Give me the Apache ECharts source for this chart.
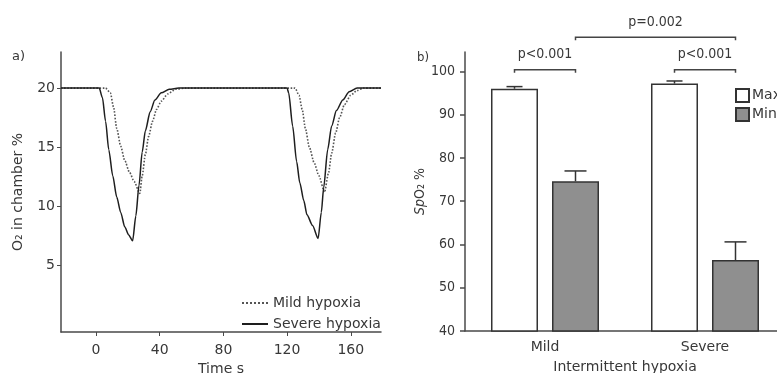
<!DOCTYPE html>
<html>
<head>
<meta charset="utf-8">
<script src="https://cdn.jsdelivr.net/npm/echarts@6/dist/echarts.min.js"></script>
<style>
  html, body { margin: 0; padding: 0; background: #fff; }
  #chart { width: 777px; height: 373px; }
</style>
</head>
<body>
<div id="chart"></div>
<script>
// panel a) O2 in chamber over time, [time s, O2 %]
const mildHypoxia = [
  [-22, 20], [6, 20], [9, 19.6], [11, 18.4], [13, 16.6], [15.5, 15.1], [18, 13.9],
  [21, 12.9], [24, 12.1], [27.5, 11.1], [29, 12.6], [31, 14.4], [33, 15.9],
  [35.5, 17.2], [38, 18.2], [41, 18.9], [45, 19.5], [50, 19.9], [56, 20],
  [125, 20], [127.5, 19.4], [129.5, 18.2], [131.5, 16.6], [134, 15.0], [137, 13.7],
  [140, 12.6], [143.5, 11.2], [146, 12.8], [148, 14.5], [150.5, 16.2], [153, 17.5],
  [156, 18.6], [160, 19.4], [164, 19.8], [168, 20], [179, 20]
];
const severeHypoxia = [
  [-22, 20], [2, 20], [4, 19.2], [6, 17.2], [8, 14.8], [10.5, 12.6], [13, 10.8],
  [15.5, 9.5], [18, 8.3], [20.5, 7.6], [23, 7.1], [25, 9.2], [27, 11.8], [29, 14.6],
  [31, 16.4], [34, 18.0], [37, 19.0], [41, 19.6], [46, 19.9], [52, 20],
  [120, 20], [121, 19.6], [123.5, 16.8], [126, 13.8], [128, 12.0], [130.5, 10.5],
  [132.5, 9.3], [136, 8.4], [139.5, 7.3], [141.5, 9.5], [143, 11.6], [145.5, 14.8],
  [148, 16.8], [151, 18.1], [155, 19.0], [159, 19.7], [164, 20], [179, 20]
];
const timeTicks = [0, 40, 80, 120, 160];
const o2Ticks = [5, 10, 15, 20];

// panel b) SpO2 max / min per group
const groups = ['Mild', 'Severe'];
const spo2Max = [96.0, 97.2];
const spo2MaxUpper = [96.5, 97.8];
const spo2Min = [74.6, 56.4];
const spo2MinUpper = [77.0, 60.6];
const spo2Ticks = [40, 50, 60, 70, 80, 90, 100];

// significance brackets: [group from, bar from (0 max / 1 min), group to, bar to, SpO2 level]
const brackets = [
  [0, 0, 0, 1, 100.4],
  [1, 0, 1, 1, 100.4],
  [0, 1, 1, 1, 107.9]
];
const bracketLabels = ['p<0.001', 'p<0.001', 'p=0.002'];

const FONT_A = 'DejaVu Sans';
const FONT_B = 'DejaVu Sans Condensed';
const TEXT = '#383838';
const AXIS = '#4a4a4a';
const BAR_W = 47;
const BAR_GAP = 14;
const barShift = (BAR_W + BAR_GAP) / 2;

const chart = echarts.init(document.getElementById('chart'));

const errorData = groups.map((g, i) => [i, spo2Max[i], spo2MaxUpper[i], 0])
  .concat(groups.map((g, i) => [i, spo2Min[i], spo2MinUpper[i], 1]));

const option = {
  animation: false,
  backgroundColor: '#fff',
  textStyle: { fontFamily: FONT_A, color: TEXT },
  graphic: [
    { type: 'text', left: 12, top: 50, style: { text: 'a)', font: '13px ' + FONT_A, fill: TEXT } },
    { type: 'text', left: 417, top: 51, style: { text: 'b)', font: '13px ' + FONT_B, fill: TEXT } }
  ],
  legend: [
    {
      data: ['Mild hypoxia', 'Severe hypoxia'],
      orient: 'vertical',
      left: 236,
      top: 291,
      itemWidth: 26,
      itemHeight: 14,
      itemGap: 7,
      itemStyle: { opacity: 0 },
      textStyle: { fontFamily: FONT_A, fontSize: 14, color: TEXT, padding: [0, 0, 0, 0] }
    },
    {
      data: ['Max', 'Min'],
      orient: 'vertical',
      left: 730,
      top: 83,
      icon: 'rect',
      itemWidth: 13,
      itemHeight: 13,
      itemGap: 4,
      textStyle: { fontFamily: FONT_A, fontSize: 14, color: TEXT, padding: [0, 0, 0, -2] }
    }
  ],
  grid: [
    { left: 61, right: 396, top: 52, bottom: 41, outerBoundsMode: 'none' },
    { left: 465, right: -8, top: 52, bottom: 42, outerBoundsMode: 'none' }
  ],
  xAxis: [
    {
      gridIndex: 0,
      type: 'value',
      min: -22,
      max: 179,
      name: 'Time s',
      nameLocation: 'middle',
      nameGap: 29,
      nameTextStyle: { fontFamily: FONT_A, fontSize: 14, color: TEXT },
      axisLine: { show: true, onZero: false, lineStyle: { color: AXIS, width: 1.5 } },
      axisTick: { show: true, length: 4, customValues: timeTicks, lineStyle: { color: AXIS } },
      axisLabel: { customValues: timeTicks, margin: 11, fontFamily: FONT_A, fontSize: 14, color: TEXT },
      splitLine: { show: false }
    },
    {
      gridIndex: 1,
      type: 'category',
      data: groups,
      name: 'Intermittent hypoxia',
      nameLocation: 'middle',
      nameGap: 29,
      nameTextStyle: { fontFamily: FONT_A, fontSize: 14, color: TEXT },
      axisLine: { lineStyle: { color: AXIS, width: 1.5 } },
      axisTick: { alignWithLabel: true, length: 4, lineStyle: { color: AXIS, width: 1.5 } },
      axisLabel: { margin: 9, fontFamily: FONT_A, fontSize: 14, color: TEXT }
    }
  ],
  yAxis: [
    {
      gridIndex: 0,
      type: 'value',
      min: -0.6,
      max: 23.05,
      name: 'O₂ in chamber %',
      nameLocation: 'middle',
      nameGap: 36,
      nameTextStyle: { fontFamily: FONT_A, fontSize: 14, color: TEXT },
      axisLine: { show: true, onZero: false, lineStyle: { color: AXIS, width: 1.5 } },
      axisTick: { show: true, length: 4, customValues: o2Ticks, lineStyle: { color: AXIS } },
      axisLabel: { customValues: o2Ticks, margin: 6, fontFamily: FONT_A, fontSize: 14, color: TEXT },
      splitLine: { show: false }
    },
    {
      gridIndex: 1,
      type: 'value',
      min: 40,
      max: 104.5,
      name: '{i|Sp}O₂ %',
      nameLocation: 'middle',
      nameGap: 35,
      nameTextStyle: {
        fontFamily: FONT_B, fontSize: 14, color: TEXT,
        rich: { i: { fontFamily: FONT_B, fontSize: 14, fontStyle: 'italic', color: TEXT } }
      },
      axisLine: { show: true, lineStyle: { color: AXIS, width: 1.5 } },
      axisTick: { show: true, length: 5, customValues: spo2Ticks, lineStyle: { color: AXIS, width: 1.5 } },
      axisLabel: { customValues: spo2Ticks, margin: 10, fontFamily: FONT_B, fontSize: 14, color: TEXT },
      splitLine: { show: false }
    }
  ],
  series: [
    {
      name: 'Mild hypoxia',
      type: 'line',
      xAxisIndex: 0,
      yAxisIndex: 0,
      data: mildHypoxia,
      symbol: 'none',
      smooth: 0.25,
      smoothMonotone: 'x',
      lineStyle: { type: 'dotted', width: 1.6, color: '#555' },
      itemStyle: { color: '#555' }
    },
    {
      name: 'Severe hypoxia',
      type: 'line',
      xAxisIndex: 0,
      yAxisIndex: 0,
      data: severeHypoxia,
      symbol: 'none',
      smooth: 0.25,
      smoothMonotone: 'x',
      lineStyle: { type: 'solid', width: 1.5, color: '#1e1e1e' },
      itemStyle: { color: '#1e1e1e' }
    },
    {
      name: 'Max',
      type: 'bar',
      xAxisIndex: 1,
      yAxisIndex: 1,
      data: spo2Max,
      barWidth: BAR_W,
      barGap: (BAR_GAP / BAR_W * 100).toFixed(1) + '%',
      itemStyle: { color: '#ffffff', borderColor: '#333', borderWidth: 1.5 }
    },
    {
      name: 'Min',
      type: 'bar',
      xAxisIndex: 1,
      yAxisIndex: 1,
      data: spo2Min,
      barWidth: BAR_W,
      itemStyle: { color: '#8f8f8f', borderColor: '#333', borderWidth: 1.5 }
    },
    {
      // upward error bars
      type: 'custom',
      xAxisIndex: 1,
      yAxisIndex: 1,
      data: errorData,
      encode: { x: 0, y: 2 },
      z: 5,
      renderItem: function (params, api) {
        const side = api.value(3) === 0 ? -1 : 1;
        const base = api.coord([api.value(0), api.value(1)]);
        const top = api.coord([api.value(0), api.value(2)]);
        const x = base[0] + side * barShift;
        const cap = side < 0 ? 8 : 11;
        const st = { stroke: '#333', lineWidth: 1.5 };
        return {
          type: 'group',
          children: [
            { type: 'line', shape: { x1: x, y1: base[1], x2: x, y2: top[1] }, style: st },
            { type: 'line', shape: { x1: x - cap, y1: top[1], x2: x + cap, y2: top[1] }, style: st }
          ]
        };
      }
    },
    {
      // significance brackets
      type: 'custom',
      xAxisIndex: 1,
      yAxisIndex: 1,
      data: brackets,
      encode: { x: 0, y: 4 },
      clip: false,
      z: 6,
      renderItem: function (params, api) {
        const a = api.coord([api.value(0), api.value(4)]);
        const b = api.coord([api.value(2), api.value(4)]);
        const x1 = a[0] + (api.value(1) === 0 ? -1 : 1) * barShift;
        const x2 = b[0] + (api.value(3) === 0 ? -1 : 1) * barShift;
        const y = a[1];
        const st = { stroke: '#444', lineWidth: 1.5, fill: null };
        return {
          type: 'group',
          children: [
            {
              type: 'polyline',
              shape: { points: [[x1, y + 3], [x1, y], [x2, y], [x2, y + 3]] },
              style: st
            },
            {
              type: 'text',
              x: (x1 + x2) / 2,
              y: y - 15,
              style: {
                text: bracketLabels[params.dataIndex],
                font: '14px ' + FONT_B,
                fill: TEXT,
                align: 'center',
                verticalAlign: 'middle'
              }
            }
          ]
        };
      }
    }
  ]
};

chart.setOption(option);
</script>
</body>
</html>
